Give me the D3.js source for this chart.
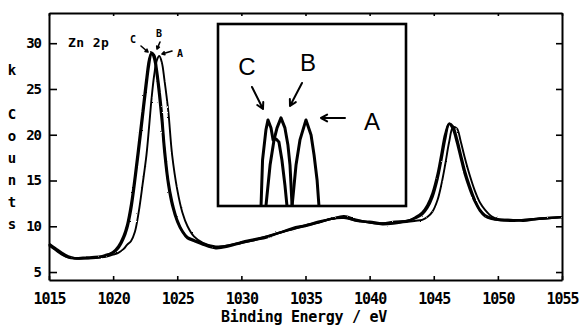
<!DOCTYPE html>
<html>
<head>
<meta charset="utf-8">
<script src="https://cdn.jsdelivr.net/npm/d3@7"></script>
<style>
  body { margin: 0; background: #fff; }
  svg { display: block; }
  .mono { font-family: "DejaVu Sans Mono", monospace; font-weight: bold; fill: #000; }
</style>
</head>
<body>
<svg id="chart" width="583" height="325"></svg>
<script>
// Zn 2p XPS spectra of three samples (A, B, C); counts in thousands.
const energy = [1015, 1015.5, 1016, 1016.5, 1017, 1018, 1019, 1019.5, 1020, 1020.4,
  1020.8, 1021.1, 1021.4, 1021.7, 1022.0, 1022.3, 1022.6, 1022.8, 1023.0, 1023.2,
  1023.4, 1023.6, 1023.8, 1024.0, 1024.3, 1024.6, 1025.0, 1025.4, 1025.8, 1026.3,
  1027, 1028, 1029, 1030, 1031, 1032, 1033, 1034, 1035, 1036,
  1037, 1038, 1039, 1040, 1041, 1042, 1043, 1043.6, 1044.1, 1044.5,
  1044.9, 1045.3, 1045.6, 1045.9, 1046.2, 1046.5, 1046.8, 1047.1, 1047.4, 1047.8,
  1048.2, 1048.6, 1049.0, 1049.5, 1050, 1051, 1052, 1053, 1054, 1055];

const countsA = [7.9, 7.4, 6.9, 6.6, 6.5, 6.5, 6.6, 6.7, 6.9, 7.1,
  7.5, 8.0, 8.4, 9.4, 11.6, 14.6, 17.8, 20.8, 24.0, 26.5,
  28.1, 28.6, 27.9, 26.0, 22.6, 17.8, 14.0, 11.5, 10.0, 8.9,
  8.2, 7.8, 7.9, 8.3, 8.6, 8.9, 9.3, 9.7, 10.0, 10.4,
  10.8, 10.9, 10.6, 10.4, 10.2, 10.3, 10.5, 10.6, 10.7, 11.0,
  11.6, 12.9, 14.6, 16.8, 19.2, 20.8, 20.7, 19.3, 17.6, 15.6,
  13.9, 12.6, 11.8, 11.1, 10.8, 10.7, 10.7, 10.8, 10.9, 11.0];

const countsB = [8.0, 7.5, 7.0, 6.6, 6.5, 6.6, 6.7, 6.9, 7.1, 7.6,
  8.6, 9.8, 11.8, 14.8, 18.2, 21.8, 25.4, 27.6, 28.9, 28.7,
  27.2, 25.0, 22.3, 18.8, 15.0, 12.7, 10.7, 9.5, 8.8, 8.5,
  8.1, 7.7, 7.9, 8.2, 8.5, 8.8, 9.3, 9.7, 10.1, 10.4,
  10.8, 11.0, 10.6, 10.5, 10.3, 10.4, 10.6, 10.9, 11.3, 12.0,
  13.2, 15.2, 17.3, 19.6, 21.2, 20.9, 19.6, 17.9, 16.2, 14.4,
  12.9, 11.8, 11.2, 10.9, 10.7, 10.6, 10.7, 10.8, 10.9, 11.0];

const countsC = [8.1, 7.6, 7.1, 6.7, 6.5, 6.5, 6.6, 6.8, 7.2, 7.8,
  8.9, 10.2, 12.4, 15.5, 19.0, 22.6, 26.2, 28.2, 29.0, 28.3,
  26.6, 24.2, 21.4, 18.0, 14.5, 12.3, 10.5, 9.4, 8.7, 8.4,
  8.0, 7.6, 7.8, 8.2, 8.5, 8.9, 9.3, 9.8, 10.1, 10.5,
  10.8, 11.1, 10.7, 10.4, 10.3, 10.5, 10.6, 11.0, 11.5, 12.3,
  13.6, 15.7, 17.9, 20.1, 21.2, 20.6, 19.2, 17.5, 15.8, 14.1,
  12.7, 11.7, 11.1, 10.8, 10.7, 10.7, 10.6, 10.8, 10.9, 11.0];

const xTicks = [1015, 1020, 1025, 1030, 1035, 1040, 1045, 1050, 1055];
const yTicks = [5, 10, 15, 20, 25, 30];
const xTitle = "Binding Energy / eV";
const yTitle = "k Counts";
const panelLabel = "Zn 2p";

// Inset: peak profiles of the three samples (relative units, 0-100).
const insetCx = [22.9, 23.7, 25.5, 26.6, 28.2, 29.3, 30.9, 32.4, 34.0, 35.6, 36.7];
const insetCy = [0, 25.3, 41.8, 47.3, 42.9, 36.3, 36.8, 35.2, 25.3, 11.5, 0];
const insetBx = [25.5, 27.7, 29.8, 31.4, 33.5, 35.6, 37.2, 38.3, 39.4];
const insetBy = [0, 22.5, 36.3, 42.9, 48.4, 42.9, 33.5, 22.5, 0];
const insetAx = [39.4, 41.5, 43.6, 46.8, 49.5, 51.1, 52.7, 53.7];
const insetAy = [0, 22.5, 36.3, 47.3, 39.0, 28.0, 14.3, 0];

const svg = d3.select("#chart");

// Slight roughness so the traces read like recorded, noisy data.
const defs = svg.append("defs");
const rough = defs.append("filter").attr("id", "rough")
  .attr("x", "-2%").attr("y", "-5%").attr("width", "104%").attr("height", "110%");
rough.append("feTurbulence").attr("type", "fractalNoise")
  .attr("baseFrequency", 0.8).attr("numOctaves", 1).attr("seed", 3).attr("result", "n");
rough.append("feDisplacementMap").attr("in", "SourceGraphic").attr("in2", "n")
  .attr("scale", 2).attr("xChannelSelector", "R").attr("yChannelSelector", "G");

const x = d3.scaleLinear().domain([1015, 1055]).range([49, 562]);
const y = d3.scaleLinear().domain([4.13, 33.3]).range([280, 13]);

// ---- axes (frame with inward ticks) ----
function styleAxis(g) {
  g.select(".domain").attr("stroke", "#000").attr("stroke-width", 2);
  g.selectAll(".tick line").attr("stroke", "#000").attr("stroke-width", 1.6);
  g.selectAll(".tick text").attr("class", "mono").attr("fill", "#000");
}
const fmt = d3.format("d");

svg.append("g").attr("transform", `translate(0,${y.range()[0]})`)
  .call(d3.axisBottom(x).tickValues(xTicks).tickFormat(fmt).tickSize(-4).tickSizeOuter(0).tickPadding(13))
  .call(styleAxis)
  .call(g => g.selectAll(".tick text").style("font-size", "15px").style("letter-spacing", "-1px"));

svg.append("g").attr("transform", `translate(0,${y.range()[1]})`)
  .call(d3.axisTop(x).tickValues(xTicks).tickSize(-3).tickSizeOuter(0).tickFormat(""))
  .call(styleAxis);

svg.append("g").attr("transform", `translate(${x.range()[0]},0)`)
  .call(d3.axisLeft(y).tickValues(yTicks).tickFormat(fmt).tickSize(-8).tickSizeOuter(0).tickPadding(8))
  .call(styleAxis)
  .call(g => g.selectAll(".tick text").style("font-size", "14px").style("letter-spacing", "-1px"));

svg.append("g").attr("transform", `translate(${x.range()[1]},0)`)
  .call(d3.axisRight(y).tickValues(yTicks).tickSize(-6).tickSizeOuter(0).tickFormat(""))
  .call(styleAxis);

// ---- axis titles ----
svg.append("text").attr("class", "mono")
  .attr("x", 304).attr("y", 322).attr("text-anchor", "middle")
  .style("font-size", "15px").style("letter-spacing", "-0.3px")
  .text(xTitle);

svg.append("g").selectAll("text")
  .data(yTitle.split(""))
  .join("text")
  .attr("class", "mono")
  .attr("x", 12)
  .attr("y", (d, i) => 70 + i * 22)
  .attr("dy", "0.35em")
  .attr("text-anchor", "middle")
  .style("font-size", "14px")
  .text(d => d);

svg.append("text").attr("class", "mono")
  .attr("x", 68).attr("y", 47)
  .style("font-size", "13px").style("letter-spacing", "0.4px")
  .text(panelLabel);

// ---- spectra ----
const line = d3.line()
  .x(d => x(d[0]))
  .y(d => y(d[1]))
  .curve(d3.curveCatmullRom.alpha(0.5));

const series = [
  { name: "A", values: countsA, width: 1.9 },
  { name: "B", values: countsB, width: 2.4 },
  { name: "C", values: countsC, width: 2.4 }
];

svg.append("g").attr("filter", "url(#rough)").selectAll("path")
  .data(series)
  .join("path")
  .attr("fill", "none")
  .attr("stroke", "#000")
  .attr("stroke-width", d => d.width)
  .attr("stroke-linejoin", "round")
  .attr("d", d => line(energy.map((e, i) => [e, d.values[i]])));

// ---- peak labels with arrows ----
function arrow(g, x1, y1, x2, y2, head, w) {
  const a = Math.atan2(y2 - y1, x2 - x1);
  const p = d3.path();
  p.moveTo(x1, y1); p.lineTo(x2, y2);
  p.moveTo(x2 - head * Math.cos(a - 0.5), y2 - head * Math.sin(a - 0.5));
  p.lineTo(x2, y2);
  p.lineTo(x2 - head * Math.cos(a + 0.5), y2 - head * Math.sin(a + 0.5));
  g.append("path").attr("d", p.toString()).attr("fill", "none")
    .attr("stroke", "#000").attr("stroke-width", w)
    .attr("stroke-linecap", "round").attr("stroke-linejoin", "round");
}

const ann = svg.append("g");
[["C", 133, 39], ["B", 159, 33], ["A", 180, 53]].forEach(([t, px, py]) => {
  ann.append("text").attr("class", "mono").attr("x", px).attr("y", py)
    .attr("dy", "0.35em").attr("text-anchor", "middle")
    .style("font-size", "10px").text(t);
});
arrow(ann, 141, 46, 148, 52, 3, 1.6);
arrow(ann, 160, 42, 157, 49, 3, 1.6);
arrow(ann, 172, 51, 162, 54, 3, 1.6);

// ---- inset ----
const ix = d3.scaleLinear().domain([0, 100]).range([218, 406]);
const iy = d3.scaleLinear().domain([0, 100]).range([206, 24]);

const inset = svg.append("g");
inset.append("rect")
  .attr("x", ix(0)).attr("y", iy(100))
  .attr("width", ix(100) - ix(0)).attr("height", iy(0) - iy(100))
  .attr("fill", "#fff").attr("stroke", "#000").attr("stroke-width", 2.6);

const iline = d3.line().x(d => ix(d[0])).y(d => iy(d[1]));
[[insetCx, insetCy], [insetBx, insetBy], [insetAx, insetAy]].forEach(([xs, ys]) => {
  inset.append("path")
    .attr("d", iline(xs.map((v, i) => [v, ys[i]])))
    .attr("fill", "none").attr("stroke", "#000").attr("stroke-width", 3)
    .attr("stroke-linejoin", "round");
});

[["C", 247, 67], ["B", 308, 63], ["A", 372, 122]].forEach(([t, px, py]) => {
  inset.append("text").attr("x", px).attr("y", py).attr("dy", "0.35em")
    .attr("text-anchor", "middle")
    .style("font-family", "'Liberation Sans', Arial, sans-serif")
    .style("font-size", "24px").attr("fill", "#000").text(t);
});
arrow(inset, 252, 87, 263, 109, 7, 2);
arrow(inset, 302, 83, 290, 106, 7, 2);
arrow(inset, 345, 118, 321, 118, 7, 2);
</script>
</body>
</html>
